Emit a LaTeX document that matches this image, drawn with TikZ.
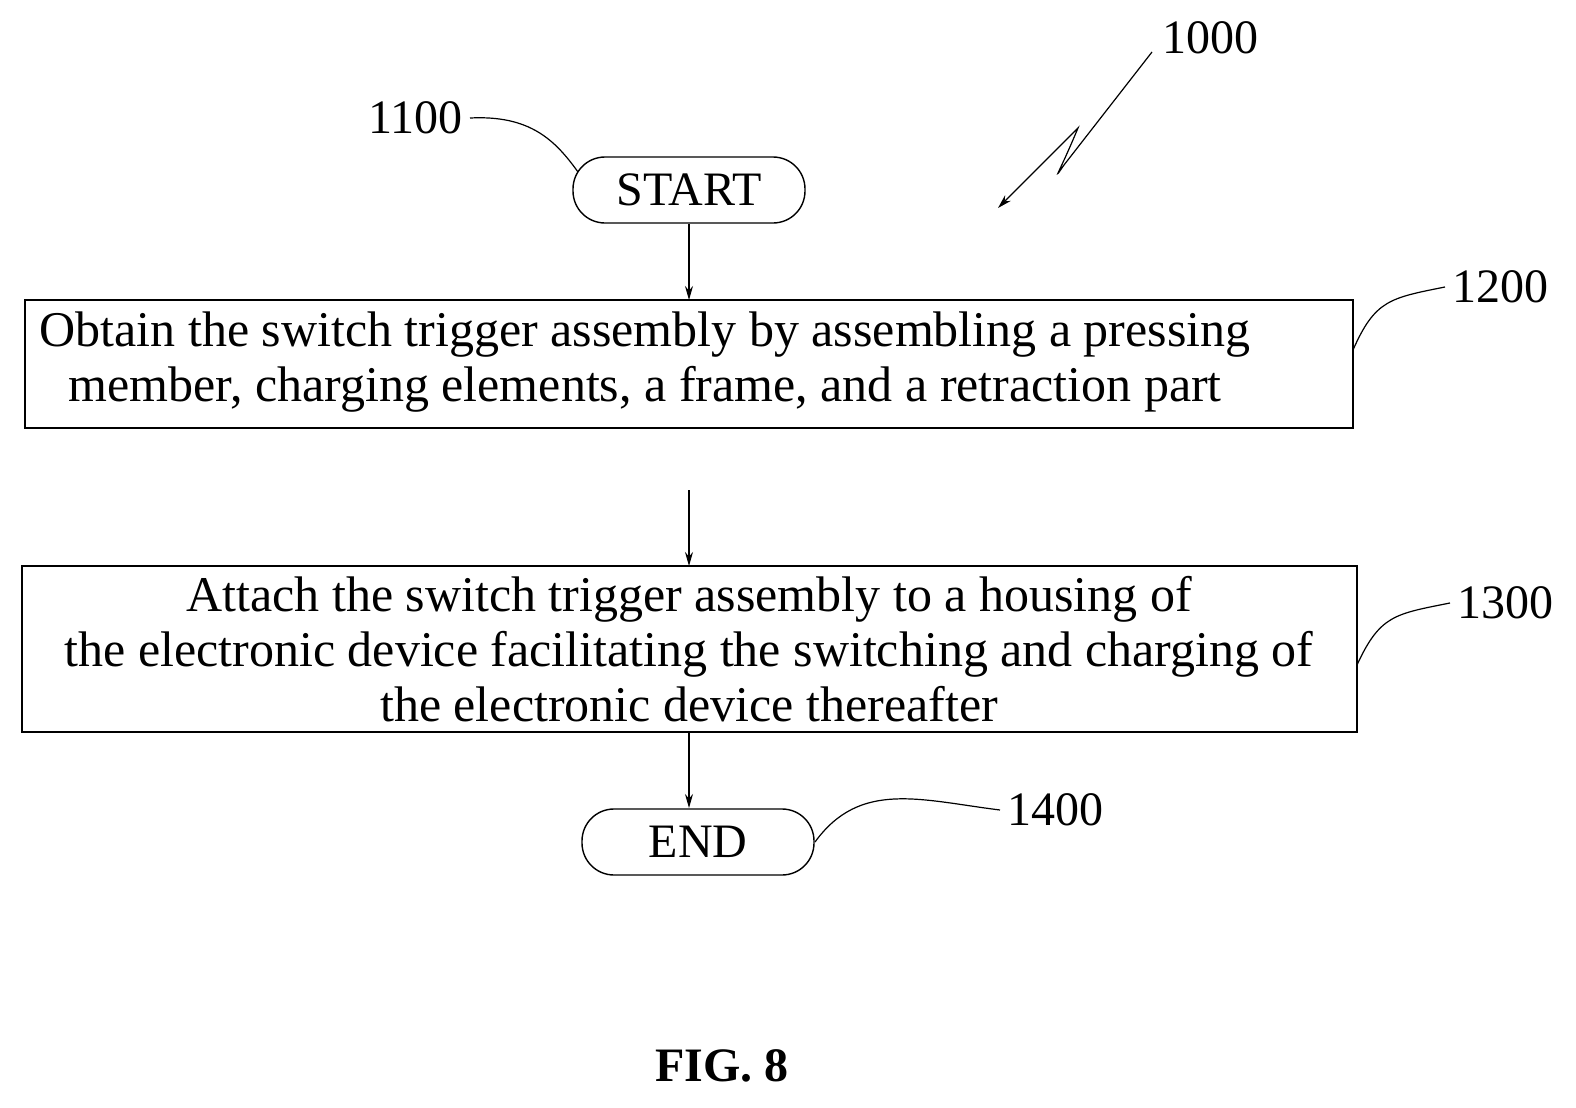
\documentclass[tikz,border=0pt]{standalone}
\usepackage{fontspec}
\setmainfont{Liberation Serif}
\usetikzlibrary{arrows.meta}
\begin{document}
\begin{tikzpicture}[x=0.5pt,y=-0.5pt,
  term/.style={draw,rounded corners=16pt,minimum width=116pt,minimum height=33pt,font=\fontsize{24}{28}\selectfont,line width=0.7pt},
  box/.style={draw,line width=0.7pt},
  txt/.style={font=\fontsize{25}{27.5}\selectfont,align=center},
  lbl/.style={font=\fontsize{24}{28}\selectfont},
  arr/.style={-{Stealth[length=7pt,width=4pt]},line width=0.6pt},
  lead/.style={line width=0.6pt}]
\useasboundingbox (0,0) rectangle (1576,1108);
\node[term] (start) at (689,190) {START};
\node[term] (end) at (698,842) {END};
\draw[box] (25,300) rectangle (1353,428);
\coordinate (b1t) at (689,300); \coordinate (b1b) at (689,490);
\node[txt] (t1) at (645,362) {Obtain the switch trigger assembly by assembling a pressing\\member, charging elements, a frame, and a retraction part};
\draw[box] (22,566) rectangle (1357,732);
\coordinate (b2t) at (689,566); \coordinate (b2b) at (689,732);
\coordinate (e1) at (689,808);
\node[txt] (t2) at (689,649) {Attach the switch trigger assembly to a housing of\\the electronic device facilitating the switching and charging of\\the electronic device thereafter};
\draw[arr] (start.south) -- (b1t);
\draw[arr] (b1b) -- (b2t);
\draw[arr] (b2b) -- (e1);
\node[lbl,anchor=east] (l1100) at (470,118) {1100};
\node[lbl,anchor=west] (l1200) at (1445,287) {1200};
\node[lbl,anchor=west] (l1300) at (1450,603) {1300};
\node[lbl,anchor=west] (l1400) at (1000,810) {1400};
\node[lbl,anchor=west] (l1000) at (1155,38) {1000};
\coordinate (c1) at (578,172);
\coordinate (c2) at (1353,350);
\coordinate (c3) at (1357,665);
\coordinate (c4) at (815,842);
\draw[lead] (l1100.east) .. controls (530,115) and (555,140) .. (c1);
\draw[lead] (l1200.west) .. controls (1390,298) and (1375,300) .. (c2);
\draw[lead] (l1300.west) .. controls (1395,614) and (1380,615) .. (c3);
\draw[lead] (l1400.west) .. controls (920,800) and (860,780) .. (c4);
\coordinate (z0) at (1152,52);
\draw[arr] (z0) -- (1064,165) .. controls (1052,182) and (1058,176) .. (1078,128) -- (998,208);
\node[font=\bfseries\fontsize{24}{28}\selectfont] (fig) at (722,1066) {FIG. 8};
\end{tikzpicture}
\end{document}
